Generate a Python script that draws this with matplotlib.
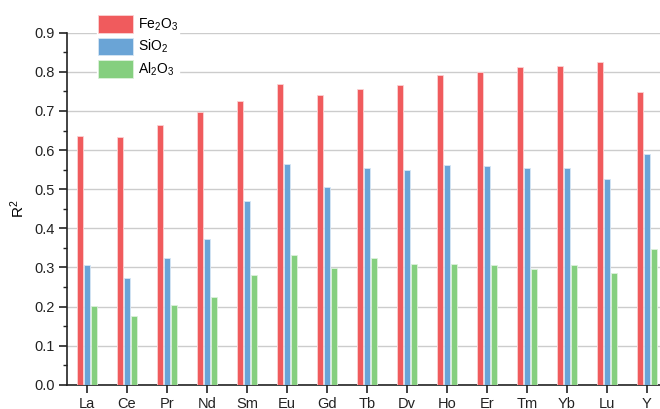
import numpy as np
import matplotlib
matplotlib.use("Agg")
import matplotlib.pyplot as plt
from matplotlib.ticker import MultipleLocator

plt.rcParams["font.family"] = ["Liberation Sans", "DejaVu Sans"]
plt.rcParams["mathtext.fontset"] = "custom"
plt.rcParams["mathtext.rm"] = "Liberation Sans"
plt.rcParams["mathtext.it"] = "Liberation Sans"

elements = ["La", "Ce", "Pr", "Nd", "Sm", "Eu", "Gd", "Tb", "Dv", "Ho", "Er", "Tm", "Yb", "Lu", "Y"]
fe2o3 = [0.635, 0.634, 0.663, 0.697, 0.725, 0.768, 0.741, 0.755, 0.766, 0.792, 0.800, 0.813, 0.815, 0.826, 0.748]
sio2 = [0.306, 0.272, 0.324, 0.373, 0.470, 0.565, 0.505, 0.554, 0.549, 0.561, 0.560, 0.555, 0.555, 0.525, 0.589]
al2o3 = [0.202, 0.176, 0.204, 0.224, 0.282, 0.332, 0.299, 0.325, 0.310, 0.308, 0.307, 0.296, 0.307, 0.287, 0.347]

fig = plt.figure(figsize=(6.6, 4.09), dpi=100)
ax = fig.add_axes([0.1015, 0.059, 0.8985, 0.861])

x = np.arange(len(elements))
w = 0.15
off = 0.18
ax.bar(x - off, fe2o3, w, color="#F05B5D", edgecolor="#FBD3D4", linewidth=0.6, label="Fe$_2$O$_3$", zorder=3)
ax.bar(x, sio2, w, color="#6AA4D6", edgecolor="#D6E6F4", linewidth=0.6, label="SiO$_2$", zorder=3)
ax.bar(x + off, al2o3, w, color="#85CF7F", edgecolor="#DDF1DB", linewidth=0.6, label="Al$_2$O$_3$", zorder=3)

ax.set_xlim(-0.5, 14.33)
ax.set_ylim(0, 0.9)
ax.yaxis.set_major_locator(MultipleLocator(0.1))
ax.yaxis.set_minor_locator(MultipleLocator(0.05))
ax.yaxis.set_major_formatter(plt.FormatStrFormatter("%.1f"))
ax.set_xticks(x)
ax.set_xticklabels(elements)
ax.grid(axis="y", color="#CCCCCC", linewidth=1.0, zorder=0)
ax.set_axisbelow(True)

for s in ["top", "right"]:
    ax.spines[s].set_visible(False)
for s in ["left", "bottom"]:
    ax.spines[s].set_linewidth(1.2)
    ax.spines[s].set_color("#222222")
ax.tick_params(axis="both", which="major", labelsize=10.5, length=6, width=1.2, direction="out",
               colors="#222222", pad=3)
ax.tick_params(axis="y", which="minor", length=3, width=1.0, colors="#222222")
ax.set_ylabel("R$^2$", fontsize=11, labelpad=5)

leg = ax.legend(loc="upper left", bbox_to_anchor=(0.0506, 1.053), frameon=True, fontsize=10,
                handlelength=2.5, handleheight=1.58, labelspacing=0.32, handletextpad=0.32,
                borderpad=0.1, borderaxespad=0, fancybox=False)
leg.get_frame().set_edgecolor("white")
leg.get_frame().set_facecolor("white")
leg.get_frame().set_alpha(1)

fig.savefig("out.png", dpi=100)
